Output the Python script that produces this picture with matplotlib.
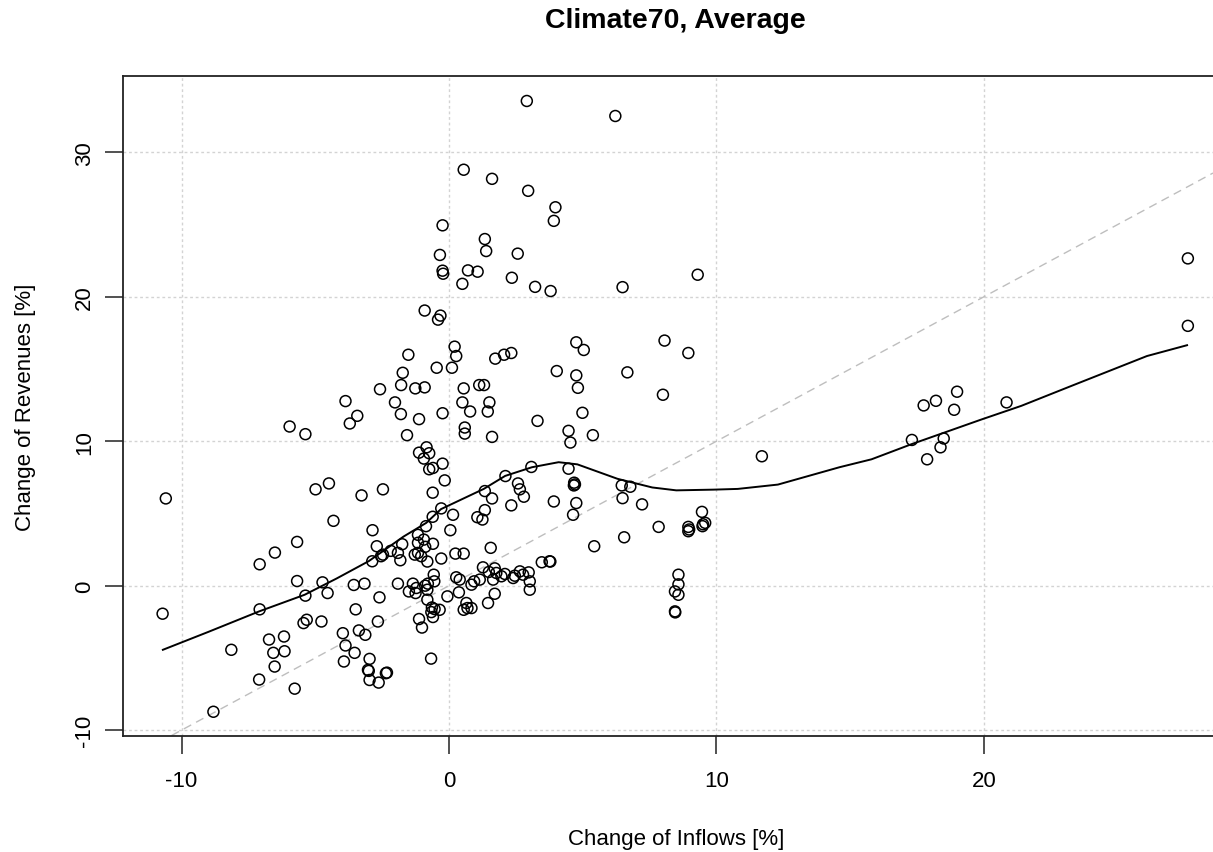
import numpy as np
import matplotlib
matplotlib.use("Agg")
import matplotlib.pyplot as plt

# scatter: change of inflows [%] vs change of revenues [%]
inflows = [
    -3.87, -3.43, -3.71, -5.96, -5.37, -10.59, -4.99, -4.49, -3.27, -4.32,
    -5.68, -6.51, -7.08, -5.68, -4.73, -3.56, -3.16, -5.37, -4.54, -10.71,
    -7.08, -5.44, -5.32, -4.77, -3.49, -3.37, -3.97, -3.87, -3.53, -3.93,
    -6.73, -6.17, -6.57, -6.15, -6.52, -8.14, -7.10, -5.77, -8.81,
    2.91, 0.55, 1.61, 2.96, -0.24, 1.34, 1.39, 2.57, -0.34, -0.24,
    -0.22, 0.71, 1.07, 2.35, 0.50, 3.22, -0.91, -0.32, -0.41, 0.21,
    0.27, -1.52, -1.73, -0.46, 0.11, 1.73, 2.06, 2.33, -2.58, -1.79,
    -1.26, -0.91, 0.55, 1.13, 1.31,
    -2.02, -1.80, -1.12, -0.24, 0.50, 0.79, 1.51, 1.45, 0.59, 0.59,
    1.61, -1.57, 3.31, -0.84, -1.12, -0.74, -0.94, -0.24, -0.74, -0.60,
    -0.16, -0.61, -2.47, -0.86, -0.61, -0.29, 0.15, 0.05, 1.34, 1.61,
    2.11, 2.58, 2.65, 2.80, 3.08, 2.33, 1.34, 1.06, 1.25, -2.86,
    -2.70, -2.87, -2.54, -2.47, -2.18, -1.91, -1.82, -1.75, -1.16, -1.16,
    -0.94, -0.89, -1.16, -1.28, -1.04, -0.81, -0.60, -0.29, 0.24, 0.55,
    1.56, -0.57, -0.55, -1.91, -2.60, -1.35, -1.22, -1.50, -1.25, -0.89,
    -0.79, -0.81, -0.06, 0.27, 0.40, 0.37, 0.84, 0.94, 1.15, 1.27,
    1.49, 1.71, 1.77, 1.96, 2.09, 2.40, 2.46, 2.65, 2.77, 2.98,
    3.02, 3.02, 1.71, 1.46, 1.65, 0.55, 0.69, 0.84, 0.65, -0.81,
    -0.64, -0.66, -0.54, -0.60, -0.35, -1.12, -1.01, -2.66, -3.13, -2.97,
    -3.03, -3.00, -2.97, -2.63, -2.32, -2.36, -0.67,
    6.22, 3.98, 3.92, 3.80, 6.49, 9.30, 4.76, 5.04, 8.06, 8.95,
    4.03, 4.76, 6.67, 4.82,
    8.00, 4.99, 4.47, 4.54, 5.38, 4.47, 4.68, 4.71, 4.67, 3.92,
    4.76, 4.64, 6.46, 6.78, 6.49, 7.22, 6.55, 5.43, 7.84, 9.46,
    8.95, 8.98, 8.95, 9.48, 9.58, 9.50, 3.47, 3.76, 3.79, 8.58,
    8.58, 8.45, 8.58, 8.45, 8.46,
    27.63, 27.63, 19.00, 18.21, 17.75, 18.89, 20.85, 17.31, 18.50, 18.38,
    17.88, 11.70,
]
revenues = [
    12.78, 11.76, 11.23, 11.02, 10.49, 6.04, 6.67, 7.08, 6.25, 4.49,
    3.03, 2.29, 1.48, 0.32, 0.23, 0.05, 0.14, -0.69, -0.51, -1.94,
    -1.64, -2.59, -2.36, -2.48, -1.64, -3.10, -3.29, -4.14, -4.65, -5.25,
    -3.73, -3.52, -4.65, -4.54, -5.60, -4.44, -6.50, -7.13, -8.73,
    33.56, 28.80, 28.17, 27.34, 24.95, 24.00, 23.17, 22.99, 22.90, 21.81,
    21.60, 21.83, 21.74, 21.32, 20.90, 20.69, 19.05, 18.70, 18.42, 16.55,
    15.90, 15.99, 14.74, 15.09, 15.09, 15.72, 15.99, 16.11, 13.60, 13.89,
    13.66, 13.73, 13.66, 13.89, 13.89,
    12.69, 11.88, 11.53, 11.94, 12.69, 12.06, 12.69, 12.06, 10.95, 10.53,
    10.30, 10.42, 11.41, 9.58, 9.21, 9.17, 8.80, 8.45, 8.06, 8.15,
    7.29, 6.44, 6.67, 4.12, 4.77, 5.35, 4.91, 3.84, 6.55, 6.04,
    7.59, 7.08, 6.67, 6.16, 8.22, 5.56, 5.23, 4.74, 4.58, 3.84,
    2.73, 1.69, 2.04, 2.15, 2.41, 2.27, 1.76, 2.87, 3.52, 2.97,
    3.19, 2.69, 2.27, 2.15, 2.04, 1.67, 2.90, 1.88, 2.22, 2.22,
    2.62, 0.76, 0.30, 0.14, -0.81, 0.14, -0.16, -0.40, -0.51, 0.00,
    0.14, -0.28, -0.74, 0.58, 0.42, -0.46, 0.07, 0.30, 0.42, 1.27,
    0.95, 1.20, 0.88, 0.65, 0.81, 0.53, 0.69, 0.99, 0.76, 0.92,
    0.30, -0.28, -0.56, -1.20, 0.42, -1.67, -1.55, -1.55, -1.20, -0.97,
    -1.51, -1.83, -1.62, -2.17, -1.67, -2.31, -2.90, -2.48, -3.40, -5.07,
    -5.83, -5.90, -6.53, -6.71, -6.02, -6.06, -5.05,
    32.52, 26.20, 25.26, 20.40, 20.67, 21.53, 16.85, 16.32, 16.97, 16.11,
    14.86, 14.56, 14.77, 13.70,
    13.22, 11.97, 10.72, 9.91, 10.42, 8.10, 7.13, 7.01, 6.94, 5.83,
    5.72, 4.91, 6.94, 6.85, 6.06, 5.63, 3.35, 2.73, 4.07, 5.11,
    4.07, 3.89, 3.77, 4.12, 4.35, 4.25, 1.62, 1.69, 1.67, 0.76,
    0.09, -0.40, -0.63, -1.78, -1.85,
    22.66, 17.99, 13.43, 12.80, 12.48, 12.18, 12.69, 10.09, 10.19, 9.58,
    8.75, 8.96,
]

# smoothed (loess) curve
smooth_x = [-10.7, -9.0, -7.1, -5.4, -4.2, -3.0, -1.7, -0.85, -0.3, 0.5,
            1.3, 2.1, 3.1, 4.1, 4.8, 6.3, 7.6, 8.5, 9.9, 10.8,
            12.3, 14.6, 15.8, 17.3, 19.9, 21.4, 23.3, 26.1, 27.6]
smooth_y = [-4.44, -3.2, -1.78, -0.63, 0.5, 1.7, 3.4, 4.35, 5.3, 6.0,
            6.7, 7.6, 8.2, 8.55, 8.4, 7.4, 6.8, 6.6, 6.65, 6.7,
            7.0, 8.2, 8.75, 9.8, 11.5, 12.45, 13.85, 15.9, 16.65]

x_ticks = [-10, 0, 10, 20]
y_ticks = [-10, 0, 10, 20, 30]

plt.rcParams['font.family'] = ['Liberation Sans', 'DejaVu Sans']
plt.rcParams['axes.unicode_minus'] = False

fig = plt.figure(figsize=(12.13, 8.53), dpi=100)
ax = fig.add_axes([0.1012, 0.1363, 0.8988, 0.7731])

xlim = (-12.2, 28.57)
ylim = (-10.39, 35.27)

# grid (dotted light gray) + 1:1 line
for xv in x_ticks:
    ax.axvline(xv, color='#d3d3d3', lw=1, ls=(0, (2, 2)), zorder=0)
for yv in y_ticks:
    ax.axhline(yv, color='#d3d3d3', lw=1, ls=(0, (2, 2)), zorder=0)
ax.plot(xlim, xlim, color='#bebebe', lw=1, ls=(0, (6, 4)), zorder=1)

ax.scatter(inflows, revenues, s=62, facecolors='none', edgecolors='black',
           linewidths=1.1, zorder=3)
ax.plot(smooth_x, smooth_y, color='black', lw=1.4, zorder=4)

ax.set_xlim(*xlim)
ax.set_ylim(*ylim)
ax.set_xticks(x_ticks)
ax.set_yticks(y_ticks)
ax.tick_params(axis='both', direction='out', length=13, width=1.2,
               labelsize=16, color='#333333')
ax.tick_params(axis='x', pad=12)
ax.tick_params(axis='y', pad=7)
for lab in ax.get_yticklabels():
    lab.set_rotation(90)
    lab.set_va('center')

for side in ['left', 'bottom', 'top']:
    ax.spines[side].set_linewidth(1.3)
    ax.spines[side].set_color('#222222')
ax.spines['right'].set_visible(False)

ax.set_xlabel('Change of Inflows [%]', fontsize=16)
ax.set_ylabel('Change of Revenues [%]', fontsize=16)
ax.xaxis.set_label_coords(0.508, -0.14)
ax.yaxis.set_label_coords(-0.080, 0.5)

fig.suptitle('Climate70, Average', x=0.557, y=1 - 21 / 853, va='center',
             fontsize=20.5, fontweight='bold')

fig.savefig('out.png', dpi=100)
